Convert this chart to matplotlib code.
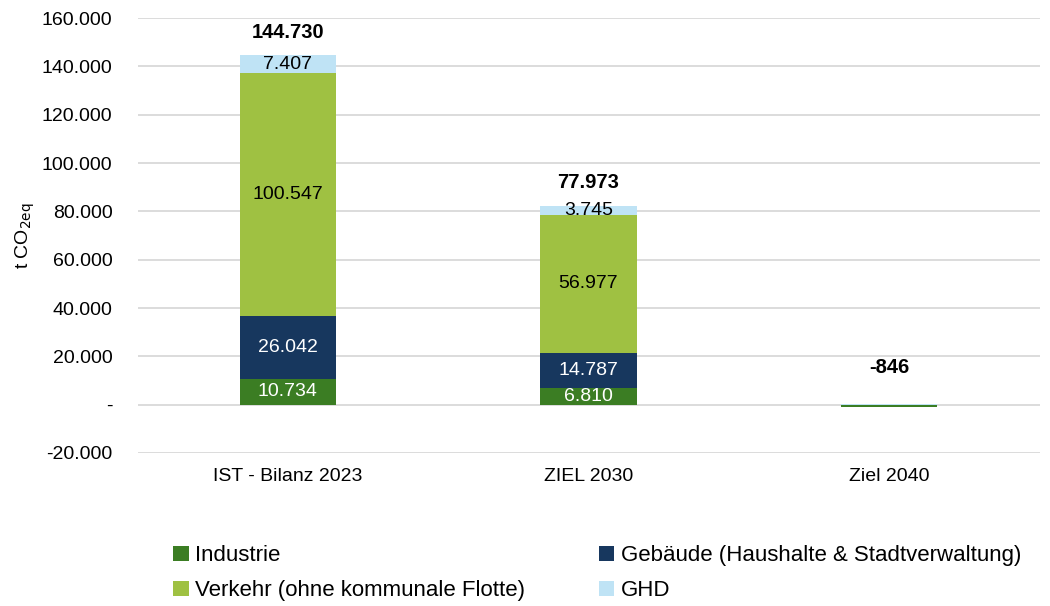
import matplotlib
matplotlib.use("Agg")
import matplotlib.pyplot as plt
from matplotlib.ticker import FuncFormatter
from matplotlib.patches import Patch

plt.rcParams['font.family'] = ['Liberation Sans', 'DejaVu Sans']

categories = ["IST - Bilanz 2023", "ZIEL 2030", "Ziel 2040"]
series_names = ["Industrie", "Gebäude (Haushalte & Stadtverwaltung)",
                "Verkehr (ohne kommunale Flotte)", "GHD"]
industrie = [10734, 6810, -1000]
gebaeude = [26042, 14787, 0]
verkehr = [100547, 56977, 0]
ghd = [7407, 3745, 154]
totals = [144730, 77973, -846]
colors = ["#3b7d23", "#17375e", "#9fc142", "#bfe3f5"]
label_colors = ["white", "white", "black", "black"]

def de(v):
    s = f"{abs(v):,.0f}".replace(",", ".")
    return ("-" if v < 0 else "") + s

fig = plt.figure(figsize=(10.5, 6.06), dpi=100)
ax = fig.add_axes([0.131, 0.2525, 0.859, 0.7175])

x = list(range(len(categories)))
width = 0.32
pos_base = [0.0] * 3
neg_base = [0.0] * 3
all_series = [industrie, gebaeude, verkehr, ghd]
for si, vals in enumerate(all_series):
    bottoms = []
    for i, v in enumerate(vals):
        bottoms.append(pos_base[i] if v >= 0 else neg_base[i])
    ax.bar(x, vals, width, bottom=bottoms, color=colors[si], zorder=3)
    for i, v in enumerate(vals):
        if abs(v) > 2000:
            ax.text(x[i], bottoms[i] + v / 2, de(v), ha="center", va="center",
                    color=label_colors[si], fontsize=14, zorder=4)
        if v >= 0:
            pos_base[i] += v
        else:
            neg_base[i] += v

for i, t in enumerate(totals):
    ax.text(x[i], max(pos_base[i], 6000) + 9500, de(t), ha="center", va="center",
            fontsize=14.5, fontweight="bold")

ax.set_ylim(-20000, 160000)
ax.set_xlim(-0.5, 2.5)
ax.set_yticks(range(-20000, 160001, 20000))
ax.yaxis.set_major_formatter(FuncFormatter(lambda v, p: "-" if v == 0 else de(v)))
ax.set_xticks(x)
ax.set_xticklabels(categories)
ax.tick_params(axis="both", length=0, labelsize=14, colors="black")
ax.tick_params(axis="y", pad=18)
ax.tick_params(axis="x", pad=11)
ax.grid(axis="y", color="#d9d9d9", linewidth=1.3, zorder=0)
for s in ax.spines.values():
    s.set_visible(False)
ax.set_ylabel("t CO$_{\\mathrm{2eq}}$", fontsize=14)
ax.yaxis.set_label_coords(-0.112, 0.5)

handles = [Patch(facecolor=c, edgecolor="none") for c in colors]
kw = dict(frameon=False, fontsize=16, handlelength=0.7, handleheight=0.7,
          handletextpad=0.3, labelspacing=0.62, borderaxespad=0, borderpad=0)
leg1 = fig.legend([handles[0], handles[2]], [series_names[0], series_names[2]],
                  loc="lower left", bbox_to_anchor=(0.165, 0.008), **kw)
leg2 = fig.legend([handles[1], handles[3]], [series_names[1], series_names[3]],
                  loc="lower left", bbox_to_anchor=(0.570, 0.008), **kw)

fig.savefig("out.png", dpi=100)
